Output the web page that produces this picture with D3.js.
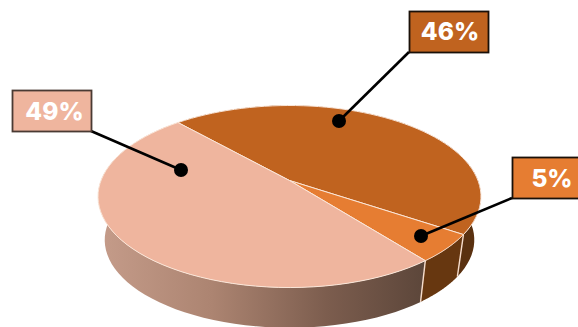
<!DOCTYPE html>
<html><head><meta charset="utf-8">
<style>html,body{margin:0;padding:0;background:#fff;overflow:hidden}svg{display:block}</style>
<script src="https://cdn.jsdelivr.net/npm/d3@7/dist/d3.min.js"></script>
</head><body><div id="chart"></div>
<script>
const labels = ["46%", "5%", "49%"];
const values = [46, 5, 49];
const topColors = ["#c0631f", "#e67d32", "#efb59e"];
const wallColors = ["#5a3110", "#673710", "url(#wall49)"];

const W = 578, H = 327;
const svg = d3.select("#chart").append("svg").attr("width", W).attr("height", H);

// perspective model of the disc
const k = 0.176, a = 88.2, b = 188.5;
const apex = [289.5, 180.5];
const project = (theta, r, dy, scale) => {
  const X = r * Math.sin(theta), Y = r * Math.cos(theta);
  const w = 1 + k * Y;
  return [apex[0] + scale * b * X / w, apex[1] + dy - scale * a * Y / w];
};
const pie = d3.pie().sort(null).value(d => d)
  .startAngle(318 * Math.PI / 180).endAngle((318 + 360) * Math.PI / 180);
const arcs = pie(values);
const line = d3.line();
const arcPts = (d, dy, s) => d3.range(0, 61).map(i => {
  const t = d3.scaleLinear().domain([0, 60]).range([d.startAngle, d.endAngle])(i);
  return project(t, 1, dy, s);
});

const defs = svg.append("defs");
const g = defs.append("linearGradient").attr("id", "wall49")
  .attr("gradientUnits", "userSpaceOnUse").attr("x1", 98).attr("x2", 425).attr("y1", 0).attr("y2", 0);
[[0, "#c59c8a"], [0.35, "#ac8471"], [0.7, "#7c5d4e"], [1, "#5c463a"]].forEach(([o, c]) =>
  g.append("stop").attr("offset", o).attr("stop-color", c));

const depth = 44, bottomScale = 0.965;
// walls
svg.append("g").selectAll("path").data(arcs).join("path")
  .attr("d", d => line(arcPts(d, 0, 1).concat(arcPts(d, depth, bottomScale).reverse())) + "Z")
  .attr("fill", (d, i) => wallColors[i]);
// wall seams
svg.append("g").selectAll("path").data(arcs).join("path")
  .attr("d", d => line([project(d.startAngle, 1, 0, 1), project(d.startAngle, 1, depth, bottomScale)]))
  .attr("stroke", d => {
    const deg = (d.startAngle * 180 / Math.PI) % 360;
    return deg > 90 && deg < 260 ? "#f6dccb" : "none";
  })
  .attr("stroke-width", 1.4).attr("fill", "none");
// top
svg.append("g").selectAll("path").data(arcs).join("path")
  .attr("d", d => line([apex].concat(arcPts(d, 0, 1))) + "Z")
  .attr("fill", (d, i) => topColors[i])
  .attr("stroke", "#fbe6d8").attr("stroke-width", 1).attr("stroke-linejoin", "round");

// callouts (layout only)
const boxes = [
  {x: 409.5, y: 11.5, w: 79, h: 41, tx: 450, ty: 40, from: [409, 52], to: [339, 121]},
  {x: 512.5, y: 157.5, w: 80, h: 41, tx: 552, ty: 187, from: [512, 198], to: [421, 236]},
  {x: 12.5, y: 90.5, w: 79, h: 41, tx: 54.5, ty: 120, from: [91, 131], to: [181, 170]}
];
const c = svg.append("g").selectAll("g").data(boxes).join("g");
c.append("line").attr("x1", d => d.from[0]).attr("y1", d => d.from[1])
  .attr("x2", d => d.to[0]).attr("y2", d => d.to[1])
  .attr("stroke", "#000").attr("stroke-width", 2.6);
c.append("circle").attr("cx", d => d.to[0]).attr("cy", d => d.to[1]).attr("r", 7).attr("fill", "#000");
c.append("rect").attr("x", d => d.x).attr("y", d => d.y).attr("width", d => d.w).attr("height", d => d.h)
  .attr("fill", (d, i) => topColors[i]).attr("stroke", (d, i) => i === 2 ? "#4a3a33" : "#1a1008").attr("stroke-width", 1.8);
c.append("text").attr("x", d => d.tx).attr("y", d => d.ty).attr("text-anchor", "middle")
  .attr("font-family", "Inter, Lato, sans-serif").attr("font-weight", 800).attr("font-size", 24.5)
  .attr("fill", "#fff").text((d, i) => labels[i]);
</script></body></html>
